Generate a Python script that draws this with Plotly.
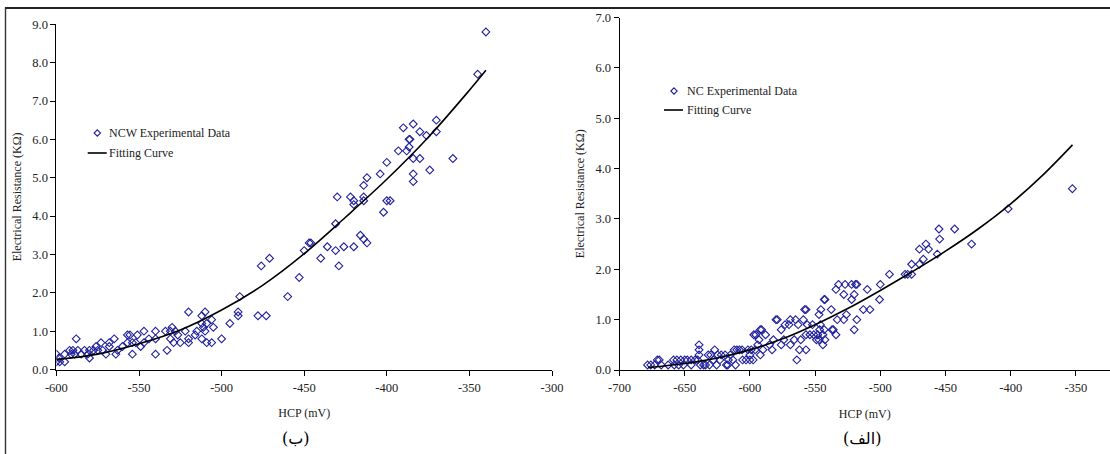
import plotly.graph_objects as go

# ---------------- data: panel (ب) NCW ----------------
ncw_hcp = [-340, -345, -360, -370, -370, -374, -376, -380, -380, -384, -384, -384, -384,
           -386, -386.5, -386.5, -388, -390, -393, -400, -404, -402, -400, -398,
           -412, -414, -414, -414, -412, -414, -416, -420, -420, -422, -420, -426,
           -429, -431, -431, -430, -436, -440, -446, -447, -450, -453, -460, -471,
           -476, -473, -478, -489, -490, -490, -495, -500, -505, -506, -506, -509,
           -509, -510, -510, -511, -512, -512, -512, -515, -516, -520, -520, -520,
           -522, -525, -526.5, -528, -529, -530, -531, -531, -533, -534, -540, -540,
           -540, -544, -547, -547, -549, -551, -552, -554, -554, -555.5, -557, -557,
           -560, -563, -564, -565, -568, -568, -570, -572, -573, -575, -576, -577.5,
           -580, -580, -581, -583, -585, -587, -588, -589, -590, -591, -592, -595,
           -595, -598, -600, -600, -598.5]
ncw_res = [8.8, 7.7, 5.5, 6.5, 6.2, 5.2, 6.1, 6.2, 5.5, 6.4, 5.5, 5.1, 4.9,
           6.0, 6.0, 5.8, 5.7, 6.3, 5.7, 5.4, 5.1, 4.1, 4.4, 4.4,
           5.0, 4.8, 4.5, 4.4, 3.3, 3.4, 3.5, 4.4, 4.3, 4.5, 3.2, 3.2,
           2.7, 3.1, 3.8, 4.5, 3.2, 2.9, 3.3, 3.3, 3.1, 2.4, 1.9, 2.9,
           2.7, 1.4, 1.4, 1.9, 1.5, 1.4, 1.2, 0.8, 1.1, 1.3, 0.7, 0.7,
           1.2, 1.0, 1.5, 1.1, 1.4, 1.2, 0.8, 1.0, 0.9, 1.5, 0.8, 0.7,
           1.0, 0.7, 0.9, 1.0, 0.7, 1.1, 0.8, 1.0, 0.5, 1.0, 1.0, 0.8,
           0.4, 0.8, 1.0, 0.7, 0.6, 0.9, 0.7, 0.7, 0.4, 0.9, 0.9, 0.7,
           0.6, 0.5, 0.4, 0.8, 0.7, 0.6, 0.4, 0.5, 0.7, 0.5, 0.6, 0.5,
           0.5, 0.3, 0.4, 0.5, 0.4, 0.5, 0.8, 0.4, 0.5, 0.4, 0.5, 0.4,
           0.2, 0.2, 0.4, 0.2, 0.3]
ncw_fit_hcp = [-600, -575, -550, -525, -500, -475, -450, -425, -400, -375, -350, -340]
ncw_fit_res = [0.26, 0.40, 0.67, 1.03, 1.55, 2.20, 3.02, 3.97, 4.96, 6.05, 7.28, 7.80]

# ---------------- data: panel (الف) NC ----------------
nc_hcp = [-352.7, -402, -430, -443, -455, -454.5, -456.3, -463, -465, -467, -470, -470,
          -476, -476, -479, -481, -493, -500, -500.6, -508, -510, -513, -518, -519,
          -518, -520, -520, -522, -522, -526, -527, -528, -528, -533, -532, -534,
          -534, -536, -537, -537.6, -542.5, -543, -542.5, -543, -544, -544, -545.6,
          -546, -546.5, -547, -547, -548, -549, -551, -552, -554, -556, -557, -558,
          -557, -557, -559, -561, -562, -563, -564, -565, -566, -569, -569, -570,
          -573, -574, -576, -576, -579, -580, -582, -583, -585, -588, -590, -591,
          -592, -592, -593, -594, -595.5, -596, -597, -597.5, -599, -600, -600,
          -601.5, -603, -605.6, -606, -608, -610, -611, -612, -613, -615, -616.5,
          -617, -618, -619, -622, -623, -624.7, -625.5, -627, -628, -630, -631,
          -632, -634, -635.5, -638, -639, -639, -639, -640, -642, -645, -645,
          -648, -650, -651, -653, -654.6, -656, -658, -658.6, -662.7, -668, -669.5,
          -671, -673, -676, -678.5]
nc_res = [3.6, 3.2, 2.5, 2.8, 2.8, 2.6, 2.3, 2.4, 2.5, 2.2, 2.4, 2.1,
          2.1, 1.9, 1.9, 1.9, 1.9, 1.7, 1.4, 1.2, 1.6, 1.2, 1.7, 1.7,
          1.0, 0.8, 1.5, 1.4, 1.7, 1.1, 1.7, 1.5, 1.0, 1.0, 1.7, 1.6,
          0.7, 0.8, 0.8, 1.2, 1.4, 1.4, 0.6, 0.8, 0.5, 0.7, 1.2,
          0.9, 0.8, 1.1, 0.6, 0.7, 0.6, 0.7, 0.9, 0.7, 0.9, 1.2, 1.2,
          0.7, 0.4, 1.0, 0.6, 0.4, 0.9, 0.2, 1.0, 0.6, 1.0, 0.5, 0.9,
          0.9, 0.6, 0.8, 0.5, 1.0, 1.0, 0.6, 0.4, 0.5, 0.7, 0.4, 0.8,
          0.8, 0.3, 0.6, 0.5, 0.7, 0.4, 0.7, 0.2, 0.4, 0.3, 0.2,
          0.4, 0.2, 0.2, 0.4, 0.4, 0.4, 0.1, 0.4, 0.2, 0.3, 0.2,
          0.1, 0.1, 0.3, 0.3, 0.2, 0.3, 0.1, 0.4, 0.2, 0.3, 0.1,
          0.3, 0.1, 0.1, 0.1, 0.5, 0.4, 0.3, 0.2, 0.2, 0.1, 0.2,
          0.2, 0.2, 0.1, 0.2, 0.1, 0.2, 0.1, 0.2, 0.1, 0.1, 0.2,
          0.2, 0.1, 0.1, 0.1]
nc_fit_hcp = [-678, -650, -625, -600, -575, -550, -525, -500, -475, -450, -425, -400, -375, -352.6]
nc_fit_res = [0.05, 0.13, 0.24, 0.40, 0.62, 0.90, 1.22, 1.58, 1.96, 2.36, 2.80, 3.30, 3.88, 4.47]

# ---------------- labels ----------------
left_xticks = [-600, -550, -500, -450, -400, -350, -300]
right_xticks = [-700, -650, -600, -550, -500, -450, -400, -350]
left_yticks = [0, 1, 2, 3, 4, 5, 6, 7, 8, 9]
right_yticks = [0, 1, 2, 3, 4, 5, 6, 7]
x_title = "HCP (mV)"
y_title = "Electrical Resistance (KΩ)"
left_caption = "(ب)"
right_caption = "(الف)"
left_legend = ["NCW Experimental Data", "Fitting Curve"]
right_legend = ["NC Experimental Data", "Fitting Curve"]

W, H = 1110, 454
MARK = "#22229c"
FONT = "Liberation Serif"
TICK_SIZE = 12.5
TEXT_SIZE = 12

def px(x):
    return x / W

def py(y):
    return (H - y) / H

fig = go.Figure()
fig.add_trace(go.Scatter(x=ncw_hcp, y=ncw_res, mode="markers", name=left_legend[0],
                         marker=dict(symbol="diamond-open", size=6, color=MARK, line=dict(width=1.1)),
                         xaxis="x", yaxis="y", showlegend=False))
fig.add_trace(go.Scatter(x=ncw_fit_hcp, y=ncw_fit_res, mode="lines", name=left_legend[1],
                         line=dict(color="black", width=1.6, shape="spline"),
                         xaxis="x", yaxis="y", showlegend=False))
fig.add_trace(go.Scatter(x=nc_hcp, y=nc_res, mode="markers", name=right_legend[0],
                         marker=dict(symbol="diamond-open", size=6, color=MARK, line=dict(width=1.1)),
                         xaxis="x2", yaxis="y2", showlegend=False))
fig.add_trace(go.Scatter(x=nc_fit_hcp, y=nc_fit_res, mode="lines", name=right_legend[1],
                         line=dict(color="black", width=1.6, shape="spline"),
                         xaxis="x2", yaxis="y2", showlegend=False))

axis_common = dict(showgrid=False, zeroline=False, showline=True, linecolor="black", linewidth=1,
                   ticks="outside", ticklen=5, tickcolor="black", tickwidth=1, automargin=False,
                   tickfont=dict(family=FONT, size=TICK_SIZE, color="#222"))

fig.update_layout(
    width=W, height=H, autosize=False,
    margin=dict(l=0, r=0, t=0, b=0),
    paper_bgcolor="white", plot_bgcolor="white",
    showlegend=False,
    font=dict(family=FONT, color="#222"),
    xaxis=dict(axis_common, domain=[px(56.4), px(552)], range=[-600, -300], anchor="y",
               tickvals=left_xticks, ticktext=[str(v) for v in left_xticks], ticklabelstandoff=1,
               title=dict(text=x_title, font=dict(family=FONT, size=TEXT_SIZE), standoff=15)),
    yaxis=dict(axis_common, domain=[py(369.5), py(24.3)], range=[0, 9], anchor="x",
               tickvals=left_yticks, ticktext=[f"{v:.1f}" for v in left_yticks],
               title=dict(text=y_title, font=dict(family=FONT, size=TEXT_SIZE), standoff=8)),
    xaxis2=dict(axis_common, domain=[px(619.5), 1.0], range=[-700, -700 + (W - 619.5) / 65.2 * 50], anchor="y2",
                tickvals=right_xticks, ticktext=[str(v) for v in right_xticks], ticklabelstandoff=1,
                title=dict(text=x_title, font=dict(family=FONT, size=TEXT_SIZE), standoff=15)),
    yaxis2=dict(axis_common, domain=[py(370), py(17.5)], range=[0, 7], anchor="x2",
                tickvals=right_yticks, ticktext=[f"{v:.1f}" for v in right_yticks],
                title=dict(text=y_title, font=dict(family=FONT, size=TEXT_SIZE), standoff=8)),
)

shapes = []
annotations = []
# outer frame (top and left edges)
shapes.append(dict(type="line", xref="paper", yref="paper", x0=px(5), x1=1.0, y0=py(8), y1=py(8),
                   line=dict(color="#222", width=1.8)))
shapes.append(dict(type="line", xref="paper", yref="paper", x0=px(5.5), x1=px(5.5), y0=py(7.5), y1=0,
                   line=dict(color="#333", width=1.4)))

def legend_block(mx, my, lx0, lx1, ly, tx, labels):
    d = 3.2
    shapes.append(dict(type="path", xref="paper", yref="paper", xsizemode="pixel", ysizemode="pixel",
                       xanchor=px(mx), yanchor=py(my),
                       path=f"M 0 {d} L {d} 0 L 0 {-d} L {-d} 0 Z",
                       line=dict(color=MARK, width=1.1), fillcolor="rgba(0,0,0,0)"))
    shapes.append(dict(type="line", xref="paper", yref="paper", x0=px(lx0), x1=px(lx1), y0=py(ly), y1=py(ly),
                       line=dict(color="black", width=1.6)))
    annotations.append(dict(xref="paper", yref="paper", x=px(tx), y=py(my), xanchor="left", yanchor="middle",
                            text=labels[0], showarrow=False, font=dict(family=FONT, size=TEXT_SIZE, color="#222")))
    annotations.append(dict(xref="paper", yref="paper", x=px(tx), y=py(ly), xanchor="left", yanchor="middle",
                            text=labels[1], showarrow=False, font=dict(family=FONT, size=TEXT_SIZE, color="#222")))

legend_block(97.3, 133, 87.7, 106.7, 153, 107, left_legend)
legend_block(674, 91, 664, 683, 110, 684.5, right_legend)

annotations.append(dict(xref="paper", yref="paper", x=px(296), y=py(438), xanchor="center", yanchor="middle",
                        text=left_caption, showarrow=False, font=dict(family="DejaVu Serif, DejaVu Sans, serif", size=16, color="black")))
annotations.append(dict(xref="paper", yref="paper", x=px(862), y=py(438), xanchor="center", yanchor="middle",
                        text=right_caption, showarrow=False, font=dict(family="DejaVu Serif, DejaVu Sans, serif", size=16, color="black")))

fig.update_layout(shapes=shapes, annotations=annotations)
# remove the default page margin so the 1110x454 figure fills the window exactly
fig.write_html("out.html", config={"displayModeBar": False},
               post_script="document.body.style.margin='0';document.body.style.overflow='hidden';")
